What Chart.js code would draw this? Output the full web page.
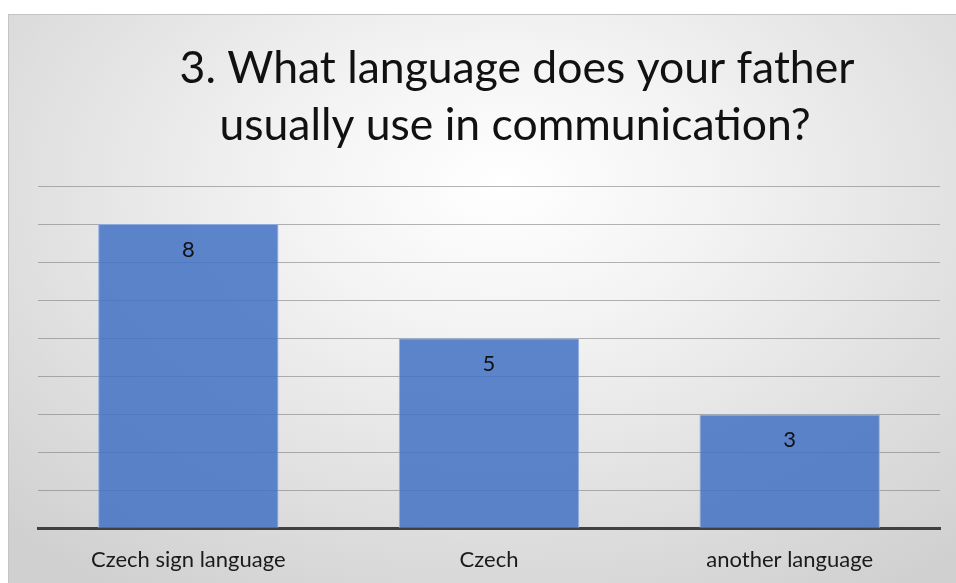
<!DOCTYPE html>
<html>
<head>
<meta charset="utf-8">
<script src="https://cdn.jsdelivr.net/npm/chart.js@4.4.1/dist/chart.umd.min.js"></script>
<style>
  html, body { margin: 0; padding: 0; background: #fff; }
  #frame {
    position: absolute; left: 8px; top: 14px; width: 948px; height: 569px;
    border-top: 1px solid #c4c4c4; border-left: 1px solid #c4c4c4;
    box-sizing: border-box;
    background: radial-gradient(ellipse 75% 85% at 52% 30%, #ffffff 0%, #f3f3f3 30%, #dcdcdc 75%, #d0d0d0 100%);
  }
  #fatherChart { position: absolute; left: 8px; top: 14px; }
</style>
</head>
<body>
<div id="frame"></div>
<canvas id="fatherChart" width="948" height="569"></canvas>
<script>
// Survey question 3: father's language of communication
const titleLines = ["3. What language does your father", "usually use in communication?"];
const categories = ["Czech sign language", "Czech", "another language"];
const counts = [8, 5, 3];
const yTicks = [0, 1, 2, 3, 4, 5, 6, 7, 8, 9];

const FONT = "Lato, 'Open Sans', sans-serif";

// Title centred a bit right of the canvas middle, two lines
const titlePlugin = {
  id: "slideTitle",
  afterDraw(chart) {
    const ctx = chart.ctx;
    ctx.save();
    ctx.font = "44.5px " + FONT;
    ctx.fillStyle = "#111";
    ctx.textAlign = "center";
    ctx.textBaseline = "alphabetic";
    ctx.fillText(titleLines[0], 509, 69);
    ctx.fillText(titleLines[1], 507, 126);
    ctx.restore();
  }
};

// Count written just inside the top of each bar
const valueLabels = {
  id: "valueLabels",
  afterDatasetsDraw(chart) {
    const ctx = chart.ctx;
    const meta = chart.getDatasetMeta(0);
    ctx.save();
    ctx.font = "22px " + FONT;
    ctx.fillStyle = "#111";
    ctx.textAlign = "center";
    ctx.textBaseline = "middle";
    meta.data.forEach((bar, i) => {
      ctx.fillText(String(counts[i]), bar.x, bar.y + 26);
    });
    ctx.restore();
  }
};

new Chart(document.getElementById("fatherChart"), {
  type: "bar",
  data: {
    labels: categories,
    datasets: [{
      data: counts,
      backgroundColor: "rgba(68, 114, 196, 0.86)",
      borderColor: "rgba(140, 170, 225, 0.9)",
      borderWidth: 1,
      categoryPercentage: 0.6,
      barPercentage: 1
    }]
  },
  options: {
    responsive: false,
    animation: false,
    layout: { padding: { top: 172, left: 30, right: 16, bottom: -8 } },
    plugins: {
      legend: { display: false },
      tooltip: { enabled: false },
      title: { display: false }
    },
    scales: {
      x: {
        grid: { display: false, drawTicks: false },
        border: { color: "#404040", width: 3 },
        ticks: { color: "#1a1a1a", padding: 18, font: { family: FONT, size: 22, lineHeight: 1.2 } }
      },
      y: {
        min: yTicks[0],
        max: yTicks[yTicks.length - 1],
        afterBuildTicks(axis) { axis.ticks = yTicks.map(v => ({ value: v })); },
        grid: { color: "rgba(120,120,120,0.55)", lineWidth: 1, drawTicks: false },
        border: { display: false },
        ticks: { display: false }
      }
    }
  },
  plugins: [titlePlugin, valueLabels]
});
</script>
</body>
</html>
